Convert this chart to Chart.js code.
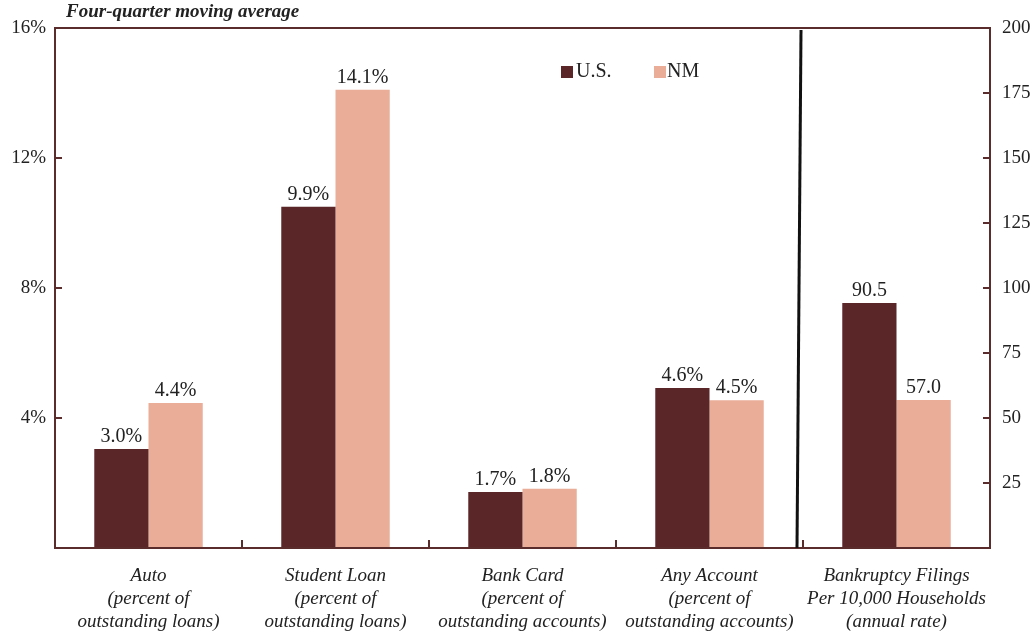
<!DOCTYPE html>
<html>
<head>
<meta charset="utf-8">
<script src="https://cdn.jsdelivr.net/npm/chart.js@4/dist/chart.umd.min.js"></script>
<style>
  html, body { margin: 0; padding: 0; background: #fff; }
  #wrap { width: 1036px; height: 637px; position: relative; }
</style>
</head>
<body>
<div id="wrap"><canvas id="chart"></canvas></div>
<script>
// categories (multi-line x labels)
let categories = [
  ["Auto", "(percent of", "outstanding loans)"],
  ["Student Loan", "(percent of", "outstanding loans)"],
  ["Bank Card", "(percent of", "outstanding accounts)"],
  ["Any Account", "(percent of", "outstanding accounts)"],
  ["Bankruptcy Filings", "Per 10,000 Households", "(annual rate)"]
];

// bar heights as drawn (left axis, percent)
let usPct = [3.05, 10.5, 1.72, 4.92, null];
let nmPct = [4.46, 14.1, 1.82, 4.55, null];
// bar heights as drawn (right axis, filings)
let usFilings = [null, null, null, null, 94.2];
let nmFilings = [null, null, null, null, 56.9];

// printed value labels
let usLabels = ["3.0%", "9.9%", "1.7%", "4.6%", "90.5"];
let nmLabels = ["4.4%", "14.1%", "1.8%", "4.5%", "57.0"];

let leftTicks = [4, 8, 12, 16];
let rightTicks = [25, 50, 75, 100, 125, 150, 175, 200];

let usColor = "#5a2628";
let nmColor = "#e9ad98";
let axisColor = "#5b2c2c";
let serif = "'Liberation Serif', 'DejaVu Serif', serif";

let extras = {
  id: "extras",
  afterDraw(chart) {
    let ctx = chart.ctx;
    let a = chart.chartArea;
    let x = chart.scales.x, yl = chart.scales.y, yr = chart.scales.y2;
    ctx.save();

    // plot frame
    ctx.strokeStyle = axisColor;
    ctx.lineWidth = 2;
    ctx.strokeRect(a.left, a.top, a.right - a.left, a.bottom - a.top);

    // inward ticks
    ctx.beginPath();
    leftTicks.forEach(function (t) {
      let py = yl.getPixelForValue(t);
      ctx.moveTo(a.left, py); ctx.lineTo(a.left + 7, py);
    });
    rightTicks.forEach(function (t) {
      let py = yr.getPixelForValue(t);
      ctx.moveTo(a.right, py); ctx.lineTo(a.right - 7, py);
    });
    for (let i = 0; i < categories.length - 1; i++) {
      let px = (x.getPixelForValue(i) + x.getPixelForValue(i + 1)) / 2;
      ctx.moveTo(px, a.bottom); ctx.lineTo(px, a.bottom - 8);
    }
    ctx.stroke();

    // divider line
    let bx = (x.getPixelForValue(3) + x.getPixelForValue(4)) / 2;
    ctx.strokeStyle = "#111";
    ctx.lineWidth = 3;
    ctx.beginPath();
    ctx.moveTo(bx - 2, a.top + 2);
    ctx.lineTo(bx - 6, a.bottom);
    ctx.stroke();

    // value labels
    ctx.fillStyle = "#222";
    ctx.font = "20px " + serif;
    ctx.textAlign = "center";
    ctx.textBaseline = "bottom";
    chart.data.datasets.forEach(function (ds, di) {
      let meta = chart.getDatasetMeta(di);
      let labs = di % 2 === 0 ? usLabels : nmLabels;
      meta.data.forEach(function (bar, i) {
        if (ds.data[i] === null) return;
        ctx.fillText(labs[i], bar.x, bar.y - 2);
      });
    });

    // legend
    ctx.textAlign = "left";
    ctx.textBaseline = "middle";
    ctx.font = "20px " + serif;
    ctx.fillStyle = usColor;
    ctx.fillRect(561, 66, 12, 12);
    ctx.fillStyle = "#222";
    ctx.fillText("U.S.", 576, 72);
    ctx.fillStyle = nmColor;
    ctx.fillRect(654, 66, 12, 12);
    ctx.fillStyle = "#222";
    ctx.fillText("NM", 667, 72);

    // title
    ctx.font = "italic bold 19px " + serif;
    ctx.fillText("Four-quarter moving average", 66, 12);
    ctx.restore();
  }
};

new Chart(document.getElementById("chart"), {
  type: "bar",
  data: {
    labels: categories,
    datasets: [
      { label: "U.S.", data: usPct, backgroundColor: usColor, yAxisID: "y" },
      { label: "NM", data: nmPct, backgroundColor: nmColor, yAxisID: "y" },
      { label: "U.S.", data: usFilings, backgroundColor: usColor, yAxisID: "y2" },
      { label: "NM", data: nmFilings, backgroundColor: nmColor, yAxisID: "y2" }
    ]
  },
  options: {
    responsive: true,
    maintainAspectRatio: false,
    animation: false,
    layout: { padding: { top: 28, right: 0, left: 0, bottom: 0 } },
    datasets: { bar: { categoryPercentage: 0.58, barPercentage: 1.0, skipNull: true } },
    plugins: { legend: { display: false }, tooltip: { enabled: false } },
    scales: {
      x: {
        grid: { display: false, drawTicks: false },
        border: { display: false },
        ticks: {
          color: "#222",
          font: { family: serif, size: 19, style: "italic", lineHeight: 1.22 },
          padding: 16,
          maxRotation: 0
        },
        afterFit(s) { s.height = 89; }
      },
      y: {
        position: "left",
        min: 0, max: 16,
        grid: { display: false, drawTicks: false },
        border: { display: false },
        ticks: {
          stepSize: 4,
          padding: 9,
          color: "#222",
          font: { family: serif, size: 19 },
          callback: function (v) { return leftTicks.includes(v) ? v + "%" : null; }
        },
        afterFit(s) { s.width = 55; }
      },
      y2: {
        position: "right",
        min: 0, max: 200,
        grid: { display: false, drawTicks: false },
        border: { display: false },
        ticks: {
          stepSize: 25,
          padding: 12,
          color: "#222",
          font: { family: serif, size: 19 },
          callback: function (v) { return rightTicks.includes(v) ? v : null; }
        },
        afterFit(s) { s.width = 46; }
      }
    }
  },
  plugins: [extras]
});
</script>
</body>
</html>
